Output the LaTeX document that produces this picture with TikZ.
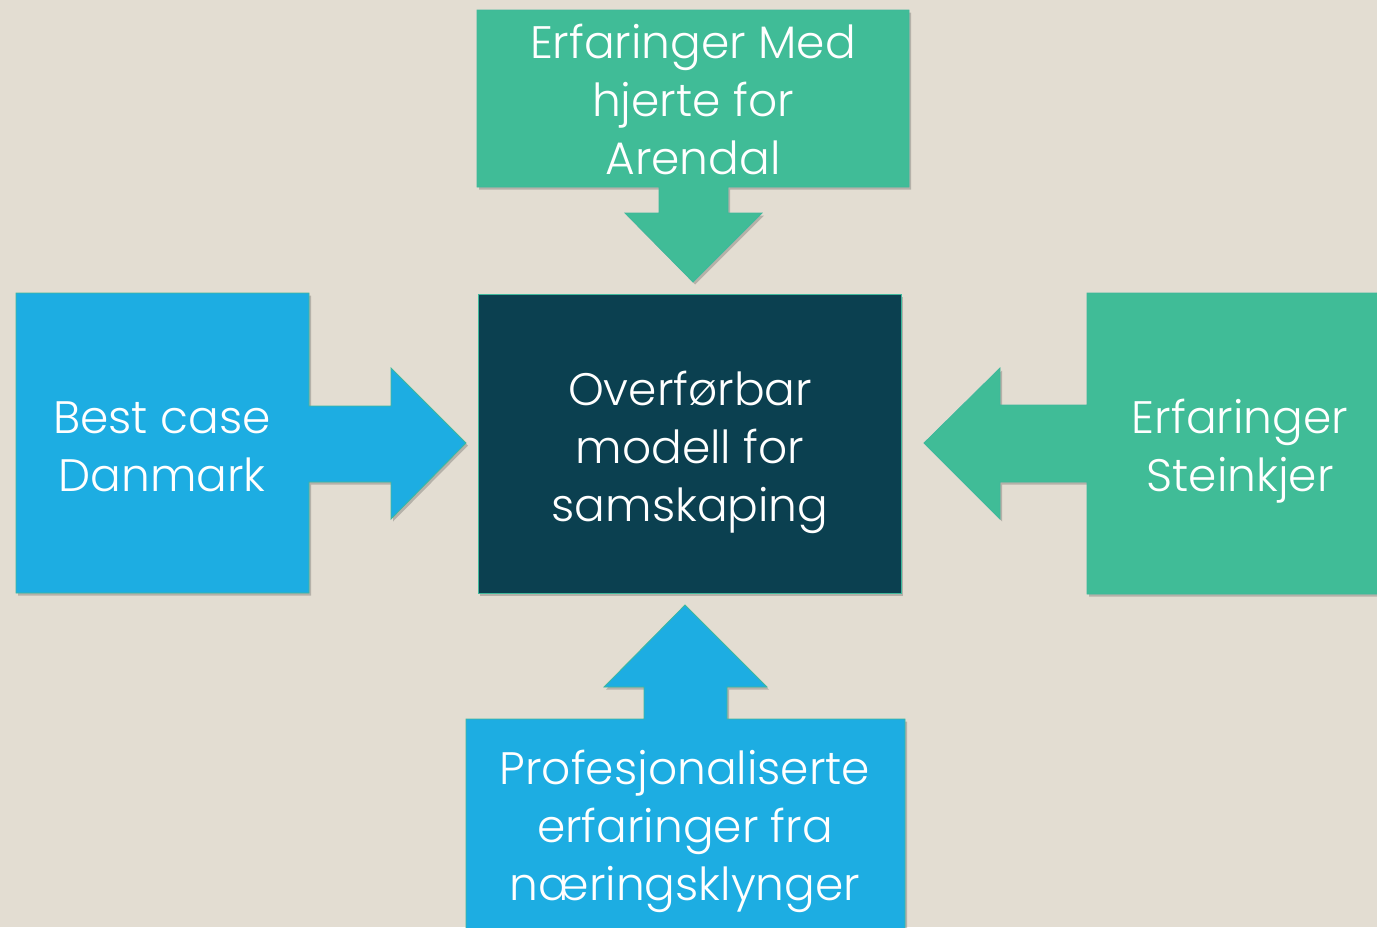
\documentclass[tikz,border=0pt]{standalone}
\usepackage{fontspec}
\setmainfont{Poppins}[UprightFont=* Light]
\usetikzlibrary{shadows}
\definecolor{bg}{HTML}{E3DDD2}
\definecolor{cblue}{HTML}{1DADE2}
\definecolor{cgreen}{HTML}{40BC97}
\definecolor{cdark}{HTML}{0B4050}
\definecolor{edge}{HTML}{3FB89C}
\begin{document}
\begin{tikzpicture}[x=1pt,y=-1pt,
  shapebox/.style={line width=0.8pt, draw=edge, drop shadow={shadow xshift=2pt, shadow yshift=-2.5pt, opacity=0.3, fill=black!70}},
  lbl/.style={text=white, font=\fontsize{45.5}{58}\selectfont, align=center, inner sep=0pt, anchor=base}]
\fill[bg] (0,0) rectangle (1377,927);
\useasboundingbox (0,0) rectangle (1377,927);
% top
\path[shapebox, fill=cgreen] (477,10) -- (909,10) -- (909,187) -- (728,187) -- (728,213) -- (762,213) -- (693,282) -- (625,213) -- (659,213) -- (659,187) -- (477,187) -- cycle;
% left
\path[shapebox, fill=cblue] (16,293) -- (309,293) -- (309,406) -- (391,406) -- (391,368) -- (466,443) -- (391,519) -- (391,482) -- (309,482) -- (309,593) -- (16,593) -- cycle;
% right
\path[shapebox, fill=cgreen] (1087,293) -- (1382,293) -- (1382,594) -- (1087,594) -- (1087,482) -- (1000,482) -- (1000,519) -- (924,443) -- (1000,368) -- (1000,405) -- (1087,405) -- cycle;
% bottom
\path[shapebox, fill=cblue] (466,719) -- (644,719) -- (644,687) -- (604,687) -- (685,605) -- (767,687) -- (727,687) -- (727,719) -- (905,719) -- (905,932) -- (466,932) -- cycle;
% center
\path[shapebox, fill=cdark] (478,294) rectangle (901,593);
\node[lbl] (top) at (693,174) {Erfaringer Med\\hjerte for\\Arendal};
\node[lbl] (left) at (162,491) {Best case\\Danmark};
\node[lbl] (right) at (1240,491) {Erfaringer\\Steinkjer};
\node[lbl] (center) at (690,521) {Overførbar\\modell for\\samskaping};
\node[lbl] (bottom) at (685,900) {Profesjonaliserte\\erfaringer fra\\næringsklynger};
\end{tikzpicture}
\end{document}
